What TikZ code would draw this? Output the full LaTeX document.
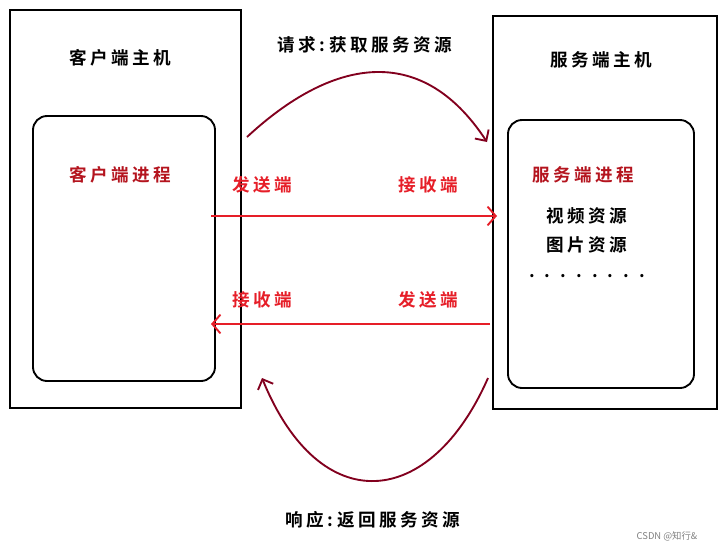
\documentclass[tikz,border=0pt]{standalone}
\usepackage{fontspec}
\setmainfont{Noto Sans CJK SC}[BoldFont={* Bold},LetterSpace=20]
\usetikzlibrary{arrows.meta}
\definecolor{linkred}{RGB}{230,30,40}
\definecolor{curvered}{RGB}{130,0,30}
\definecolor{procred}{RGB}{180,20,30}
\begin{document}
\begin{tikzpicture}[x=0.03cm,y=-0.03cm]
\tikzstyle{hostbox}=[draw,line width=1.6pt]
\tikzstyle{procbox}=[draw,line width=1.6pt,rounded corners=12]
\tikzstyle{title}=[font=\bfseries\fontsize{15}{18}\selectfont]
\tikzstyle{endlabel}=[font=\bfseries\fontsize{15}{18}\selectfont,text=linkred]
\tikzstyle{link}=[linkred,line width=1.6pt,-{Straight Barb[length=7pt,width=16pt]}]
\tikzstyle{swing}=[curvered,line width=1.6pt,-{Straight Barb[length=7pt,width=14pt]}]
\useasboundingbox (0,0) rectangle (728,551);

% hosts
\draw[hostbox] (10,10) rectangle (241,408);
\draw[procbox] (33,116) rectangle (215,381);
\draw[hostbox] (493,16) rectangle (717,409);
\draw[procbox] (508,120) rectangle (694,388);

\node[title] (cHost) at (120,58) {客户端主机};
\node[title,text=procred] (cProc) at (120,175) {客户端进程};
\node[title] (sHost) at (601,60) {服务端主机};
\node[title,text=procred] (sProc) at (583,175) {服务端进程};
\node[title] (video) at (587,216) {视频资源};
\node[title] (image) at (587,245) {图片资源};
\node[title] (dots) at (587,276) {. . . . . . . .};

% links
\coordinate (sendA) at (211,216);
\coordinate (recvA) at (497,216);
\coordinate (sendB) at (490,324);
\coordinate (recvB) at (211,324);
\draw[link] (sendA) -- (recvA);
\draw[link] (sendB) -- (recvB);
\node[endlabel] (lSend) at (262,185) {发送端};
\node[endlabel] (rRecv) at (428,185) {接收端};
\node[endlabel] (lRecv) at (262,300) {接收端};
\node[endlabel] (rSend) at (428,300) {发送端};

% request / response
\coordinate (reqA) at (247,137);
\coordinate (reqB) at (487,142);
\coordinate (resA) at (488,378);
\coordinate (resB) at (262,378);
\draw[swing] (reqA) .. controls (330,60) and (420,40) .. (reqB);
\draw[swing] (resA) .. controls (430,510) and (320,520) .. (resB);
\node[title] (req) at (365,45) {请求:获取服务资源};
\node[title] (res) at (373,520) {响应:返回服务资源};

\node[text=gray,font=\fontsize{8}{10}\selectfont\addfontfeature{LetterSpace=0}] (mark) at (667,536) {CSDN @知行\&};
\end{tikzpicture}
\end{document}
